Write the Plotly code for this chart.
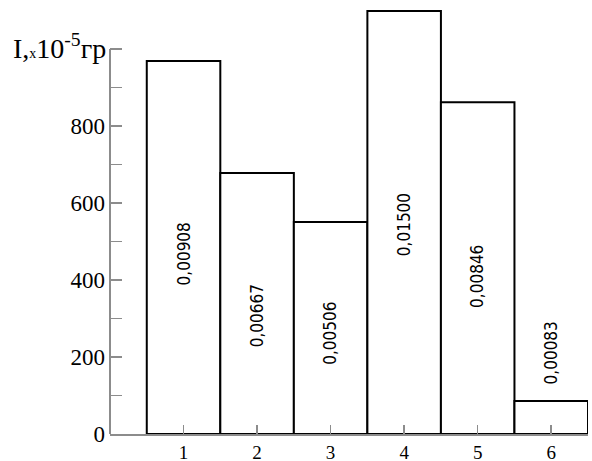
import plotly.graph_objects as go

categories = [1, 2, 3, 4, 5, 6]
intensity = [969, 678, 551, 1099, 862, 86]
bar_labels = ["0,00908", "0,00667", "0,00506", "0,01500", "0,00846", "0,00083"]
label_centers = [468, 306, 262, 543, 410, 210]
y_tick_vals = [0, 100, 200, 300, 400, 500, 600, 700, 800, 900, 1000]
y_tick_text = ["0", "", "200", "", "400", "", "600", "", "800", "", ""]

serif = "Liberation Serif, Times New Roman, serif"
sans = "DejaVu Sans Condensed, Liberation Sans Narrow, DejaVu Sans, sans-serif"

fig = go.Figure()
fig.add_trace(go.Bar(
    x=categories, y=intensity, width=1.0,
    marker=dict(color="white", line=dict(color="black", width=2)),
    showlegend=False, hoverinfo="skip",
))

for c, lab, yc in zip(categories, bar_labels, label_centers):
    fig.add_annotation(x=c, y=yc, text=lab, textangle=-90, showarrow=False,
                       font=dict(family=sans, size=17, color="black"))

# y axis line from 0 to 1000
fig.add_shape(type="line", xref="paper", yref="y", x0=0, x1=0, y0=0, y1=1000,
              line=dict(color="#8c8c8c", width=2))

fig.add_annotation(xref="paper", yref="paper", x=-0.207, y=0.94, xanchor="left", yanchor="top",
                   text="I,<span style='font-size:14px'>x</span>10<sup>-5</sup>гр",
                   showarrow=False, font=dict(family=serif, size=28, color="black"))

fig.update_layout(
    width=592, height=461,
    margin=dict(l=110, r=4, t=1, b=27),
    paper_bgcolor="white", plot_bgcolor="white",
    bargap=0,
    xaxis=dict(range=[0, 6.5], tickvals=categories, ticktext=[str(c) for c in categories],
               ticks="inside", ticklen=9, tickcolor="#8c8c8c", tickwidth=1.5,
               showline=True, linecolor="#8c8c8c", linewidth=2,
               showgrid=False, zeroline=False, automargin=False,
               ticklabelstandoff=0,
               tickfont=dict(family=serif, size=19, color="black")),
    yaxis=dict(range=[0, 1125], tickvals=y_tick_vals, ticktext=y_tick_text,
               ticks="inside", ticklen=12, tickcolor="#8c8c8c", tickwidth=1.5,
               showline=False, showgrid=False, zeroline=False, automargin=False,
               ticklabelstandoff=4,
               tickfont=dict(family=serif, size=23, color="black")),
)

fig.write_html("out.html", config={"displayModeBar": False, "staticPlot": True},
               post_script="document.body.style.margin='0';document.body.style.overflow='hidden';")
